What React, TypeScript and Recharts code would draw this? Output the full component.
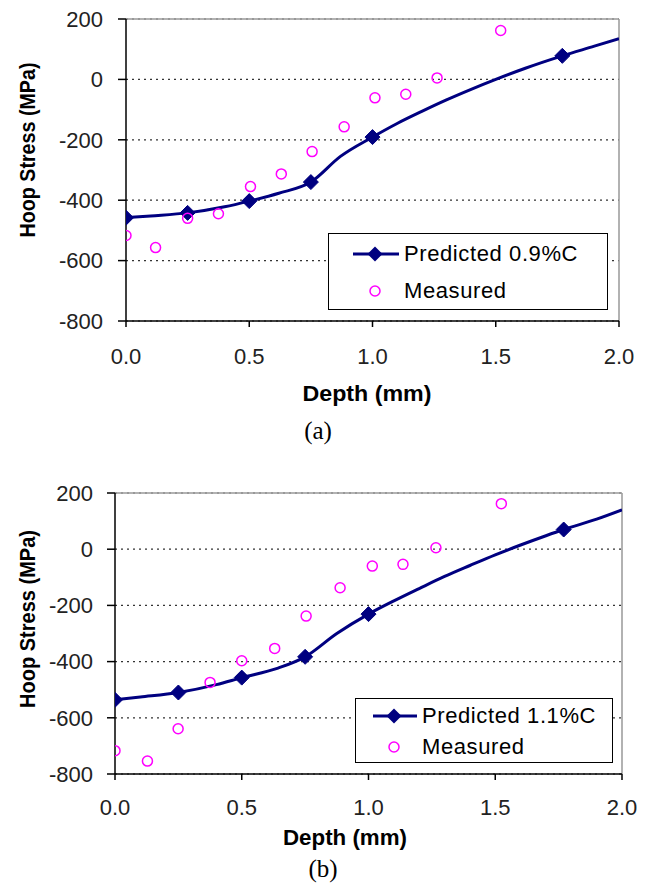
import React from "react";
import {
  ComposedChart,
  Line,
  Scatter,
  XAxis,
  YAxis,
  CartesianGrid,
  ReferenceLine,
} from "recharts";

// ---------- data ----------
const xTicks = [0, 0.5, 1, 1.5, 2];
const yTicks = [-800, -600, -400, -200, 0, 200];

// (a) predicted 0.9%C curve
const predDepthA = [0, 0.1, 0.25, 0.4, 0.5, 0.62, 0.75, 0.87, 1.0, 1.1, 1.2, 1.3, 1.4, 1.5, 1.62, 1.77, 1.9, 2.0];
const predStressA = [-458, -452, -442, -422, -403, -377, -340, -255, -191, -146, -106, -68, -33, 0, 37, 78, 110, 135];
const predMarkerA = [1, 0, 1, 0, 1, 0, 1, 0, 1, 0, 0, 0, 0, 0, 0, 1, 0, 0];

// (a) measured
const measDepthA = [0, 0.12, 0.25, 0.375, 0.505, 0.63, 0.755, 0.885, 1.01, 1.135, 1.262, 1.52];
const measStressA = [-517, -557, -460, -445, -355, -313, -239, -157, -61, -49, 5, 162];

// (b) predicted 1.1%C curve
const predDepthB = [0, 0.1, 0.25, 0.4, 0.5, 0.64, 0.75, 0.875, 1.0, 1.1, 1.2, 1.3, 1.4, 1.5, 1.6, 1.7, 1.77, 1.9, 2.0];
const predStressB = [-536, -526, -510, -482, -457, -424, -383, -300, -231, -184, -140, -97, -58, -20, 15, 48, 70, 107, 140];
const predMarkerB = [1, 0, 1, 0, 1, 0, 1, 0, 1, 0, 0, 0, 0, 0, 0, 0, 1, 0, 0];

// (b) measured
const measDepthB = [0, 0.128, 0.249, 0.375, 0.5, 0.63, 0.754, 0.888, 1.015, 1.136, 1.266, 1.524];
const measStressB = [-717, -754, -639, -474, -397, -353, -238, -137, -60, -54, 5, 162];

const labelA = "Predicted 0.9%C";
const labelB = "Predicted 1.1%C";
const measuredLabel = "Measured";
const xTitle = "Depth (mm)";
const yTitle = "Hoop Stress (MPa)";

const predA = predDepthA.map((x, i) => ({ x, y: predStressA[i], m: predMarkerA[i] }));
const measA = measDepthA.map((x, i) => ({ x, y: measStressA[i] }));
const predB = predDepthB.map((x, i) => ({ x, y: predStressB[i], m: predMarkerB[i] }));
const measB = measDepthB.map((x, i) => ({ x, y: measStressB[i] }));

// ---------- styles ----------
const NAVY = "#000080";
const MAGENTA = "#FF00FF";
const FONT = "'Liberation Sans', Arial, sans-serif";

const diamondDot = (p: any) => {
  const { cx, cy, payload, index } = p;
  if (!payload || !payload.m || cx == null || cy == null) return <g key={`d-${index}`} />;
  const s = 7.5;
  return (
    <path
      key={`d-${index}`}
      d={`M${cx},${cy - s}L${cx + s},${cy}L${cx},${cy + s}L${cx - s},${cy}Z`}
      fill={NAVY}
      stroke={NAVY}
    />
  );
};

const circleShape = (p: any) => (
  <circle cx={p.cx} cy={p.cy} r={5} fill="none" stroke={MAGENTA} strokeWidth={1.5} />
);

const LegendBox = (props: any) => {
  const { label, left, top, w, h, rowY1, rowY2, lineX1, lineX2, symX, textX } = props;
  return (
    <div
      style={{
        position: "absolute",
        left,
        top,
        width: w,
        height: h,
        boxSizing: "border-box",
        border: "1.5px solid #000",
        background: "#fff",
        fontFamily: FONT,
        fontSize: 22,
        color: "#000",
      }}
    >
      <svg style={{ position: "absolute", left: 0, top: 0 }} width={w} height={h}>
        <line x1={lineX1} x2={lineX2} y1={rowY1} y2={rowY1} stroke={NAVY} strokeWidth={3} />
        <path
          d={`M${symX},${rowY1 - 7.5}L${symX + 7.5},${rowY1}L${symX},${rowY1 + 7.5}L${symX - 7.5},${rowY1}Z`}
          fill={NAVY}
        />
        <circle cx={symX} cy={rowY2} r={5} fill="none" stroke={MAGENTA} strokeWidth={1.5} />
      </svg>
      <span style={{ position: "absolute", left: textX, top: rowY1 - 13, lineHeight: "26px", whiteSpace: "nowrap", letterSpacing: 0.6 }}>
        {label}
      </span>
      <span style={{ position: "absolute", left: textX, top: rowY2 - 13, lineHeight: "26px", whiteSpace: "nowrap", letterSpacing: 0.6 }}>
        {measuredLabel}
      </span>
    </div>
  );
};

const Panel = (props: any) => {
  const {
    pred, meas, width, height, margin, yAxisW,
    yTitlePos, xTitlePos, tickMarginX, tickMarginY,
  } = props;
  return (
    <ComposedChart width={width} height={height} margin={margin}>
      <CartesianGrid vertical={false} stroke="#333" strokeDasharray="2 4" strokeWidth={1.2} />
      <XAxis
        dataKey="x"
        type="number"
        domain={[0, 2]}
        ticks={xTicks}
        tickFormatter={(v: number) => v.toFixed(1)}
        height={80}
        tickSize={6}
        tickMargin={tickMarginX}
        axisLine={{ stroke: "#000", strokeWidth: 1.5 }}
        tickLine={{ stroke: "#000", strokeWidth: 1.5 }}
        tick={{ fill: "#222", fontSize: 22, fontFamily: FONT }}
        allowDataOverflow
        label={{
          content: () => (
            <text
              x={xTitlePos.x}
              y={xTitlePos.y}
              textAnchor="middle"
              dominantBaseline="central"
              fontFamily={FONT}
              fontWeight="bold"
              fontSize={22}
              fill="#000"
              textLength={xTitlePos.len}
              lengthAdjust="spacingAndGlyphs"
            >
              {xTitle}
            </text>
          ),
        }}
      />
      <YAxis
        dataKey="y"
        type="number"
        domain={[-800, 200]}
        ticks={yTicks}
        width={yAxisW}
        tickSize={8}
        tickMargin={tickMarginY}
        axisLine={{ stroke: "#000", strokeWidth: 1.5 }}
        tickLine={{ stroke: "#000", strokeWidth: 1.5 }}
        tick={{ fill: "#222", fontSize: 22, fontFamily: FONT }}
        allowDataOverflow
        label={{
          content: () => (
            <text
              x={yTitlePos.x}
              y={yTitlePos.y}
              transform={`rotate(-90 ${yTitlePos.x} ${yTitlePos.y})`}
              textAnchor="middle"
              dominantBaseline="central"
              fontFamily={FONT}
              fontWeight="bold"
              fontSize={22}
              fill="#000"
              textLength={yTitlePos.len}
              lengthAdjust="spacingAndGlyphs"
            >
              {yTitle}
            </text>
          ),
        }}
      />
      <ReferenceLine y={200} stroke="#999" strokeWidth={1.5} />
      <ReferenceLine x={2} stroke="#999" strokeWidth={1.5} />
      <Line
        data={pred}
        dataKey="y"
        type="monotone"
        stroke={NAVY}
        strokeWidth={3}
        dot={diamondDot}
        activeDot={false}
        isAnimationActive={false}
        legendType="none"
      />
      <Scatter
        data={meas}
        dataKey="y"
        shape={circleShape}
        isAnimationActive={false}
        legendType="none"
      />
    </ComposedChart>
  );
};

const captionStyle: React.CSSProperties = {
  position: "absolute",
  width: 60,
  textAlign: "center",
  fontFamily: "'Liberation Serif', 'Times New Roman', serif",
  fontSize: 25,
  lineHeight: "28px",
  color: "#000",
};

export default function App() {
  return (
    <div style={{ position: "absolute", left: 0, top: 0, width: 652, height: 885, background: "#fff" }}>
      <div style={{ position: "absolute", left: 0, top: 0, width: 652, height: 445 }}>
        <Panel
          pred={predA}
          meas={measA}
          width={652}
          height={445}
          margin={{ top: 19, right: 33, left: 0, bottom: 44 }}
          yAxisW={126}
          tickMarginX={21}
          tickMarginY={15}
          yTitlePos={{ x: 27, y: 150, len: 175 }}
          xTitlePos={{ x: 367, y: 393, len: 129 }}
        />
        <LegendBox
          label={labelA}
          left={328}
          top={233}
          w={280}
          h={77}
          rowY1={20}
          rowY2={57}
          lineX1={24}
          lineX2={70}
          symX={46}
          textX={75}
        />
      </div>
      <div style={{ ...captionStyle, left: 288, top: 417 }}>(a)</div>
      <div style={{ position: "absolute", left: 0, top: 445, width: 652, height: 440 }}>
        <Panel
          pred={predB}
          meas={measB}
          width={652}
          height={440}
          margin={{ top: 48, right: 30, left: 0, bottom: 31 }}
          yAxisW={115}
          tickMarginX={19}
          tickMarginY={14}
          yTitlePos={{ x: 27, y: 174, len: 178 }}
          xTitlePos={{ x: 345, y: 392, len: 124 }}
        />
        <LegendBox
          label={labelB}
          left={355}
          top={253}
          w={258}
          h={65}
          rowY1={17}
          rowY2={48}
          lineX1={17}
          lineX2={61}
          symX={38}
          textX={66}
        />
      </div>
      <div style={{ ...captionStyle, left: 293, top: 855 }}>(b)</div>
    </div>
  );
}
